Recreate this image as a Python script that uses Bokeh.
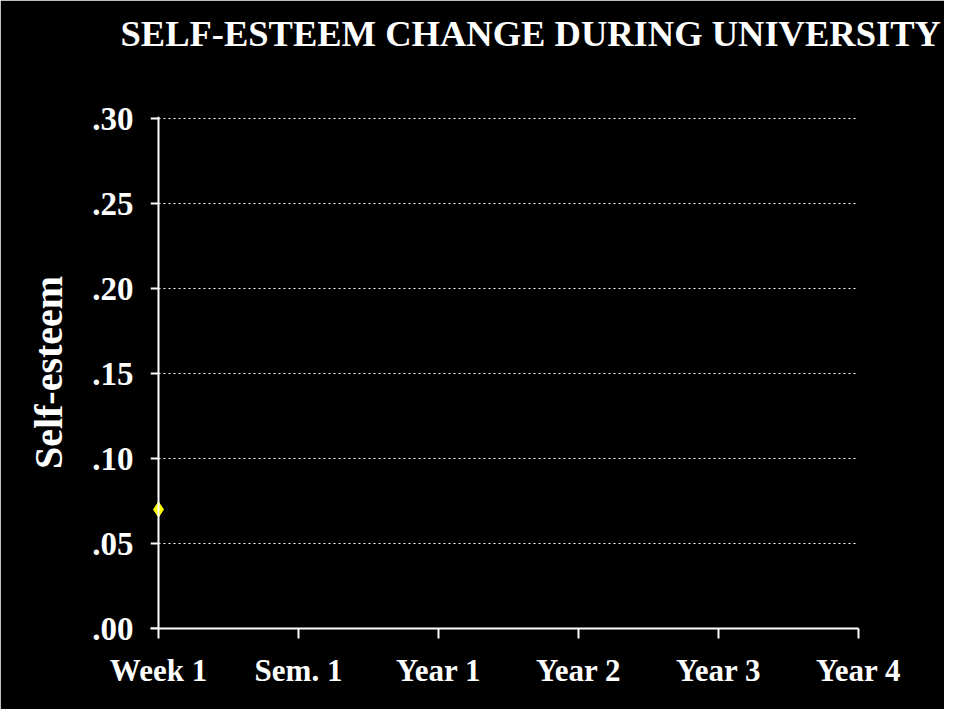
from bokeh.plotting import figure
from bokeh.embed import file_html
from bokeh.resources import INLINE
from bokeh.models import Range1d, FixedTicker, Span, LinearAxis

categories = ["Week 1", "Sem. 1", "Year 1", "Year 2", "Year 3", "Year 4"]
series_values = [0.07]
y_ticks = [0.00, 0.05, 0.10, 0.15, 0.20, 0.25, 0.30]
y_tick_labels = [".00", ".05", ".10", ".15", ".20", ".25", ".30"]
title_text = "SELF-ESTEEM CHANGE DURING UNIVERSITY"

FONT = "Liberation Serif"
X0 = -8 / 140          # small room left of the first category so the marker is not clipped
YTOP = 0.3012

p = figure(width=944, height=709, output_backend="svg", toolbar_location=None,
           x_range=Range1d(X0, len(categories) - 1), y_range=Range1d(0, YTOP),
           min_border_left=150, min_border_right=86, min_border_top=116, min_border_bottom=81,
           title=title_text)
p.background_fill_color = "black"
p.border_fill_color = "black"
p.outline_line_color = "black"

xax = p.below[0]
yax = p.left[0]

# invisible spacer axis above the frame, pushes the title upward
spacer = LinearAxis(ticker=FixedTicker(ticks=[0]), axis_line_color=None,
                    major_label_overrides={0: ""},
                    major_tick_line_color=None, minor_tick_line_color=None,
                    major_tick_out=63, major_tick_in=0, major_label_standoff=0,
                    major_label_text_font_size="0px")
p.add_layout(spacer, "above")

p.title.text_color = "white"
p.title.text_font = FONT
p.title.text_font_style = "bold"
p.title.text_font_size = "36.5px"
p.title.align = "left"
p.title.offset = -30
p.title.standoff = 0

xs = list(range(len(categories)))
xax.ticker = FixedTicker(ticks=xs)
xax.major_label_overrides = {i: c for i, c in enumerate(categories)}
yax.ticker = FixedTicker(ticks=y_ticks)
yax.major_label_overrides = {t: l for t, l in zip(y_ticks, y_tick_labels)}

for ax in (xax, yax):
    ax.axis_line_color = "white"
    ax.axis_line_width = 2
    ax.major_tick_line_color = "white"
    ax.major_tick_line_width = 2
    ax.major_tick_in = 0
    ax.minor_tick_line_color = None
    ax.major_label_text_color = "white"
    ax.major_label_text_font = FONT
    ax.major_label_text_font_style = "bold"

xax.major_label_text_font_size = "31px"
xax.major_tick_out = 10
xax.major_label_standoff = 14

yax.major_label_text_font_size = "33px"
yax.axis_line_color = None
yax.major_tick_line_color = None
yax.major_tick_out = 0
yax.major_label_standoff = 17

yax.axis_label = "Self-esteem"
yax.axis_label_text_color = "white"
yax.axis_label_text_font = FONT
yax.axis_label_text_font_style = "bold"
yax.axis_label_text_font_size = "40px"
yax.axis_label_standoff = 18

p.xgrid.grid_line_color = None
p.ygrid.grid_line_color = None

# dotted horizontal gridlines from the first to the last category
grid_vals = y_ticks[1:]
p.segment(x0=[0] * len(grid_vals), x1=[len(categories) - 1] * len(grid_vals),
          y0=grid_vals, y1=grid_vals, line_color="white", line_width=1, line_dash="2 3")

# vertical axis line at the first category and its outward ticks
p.add_layout(Span(location=0, dimension="height", line_color="white", line_width=2))
p.segment(x0=[X0] * len(y_ticks), x1=[0] * len(y_ticks), y0=y_ticks, y1=y_ticks,
          line_color="white", line_width=2)

p.scatter(x=[0], y=series_values, marker="diamond", size=15, color="yellow", line_color="yellow")

html = file_html(p, INLINE)
html = html.replace("<body>", '<body style="background-color:black;">', 1)
open("out.html", "w").write(html)
